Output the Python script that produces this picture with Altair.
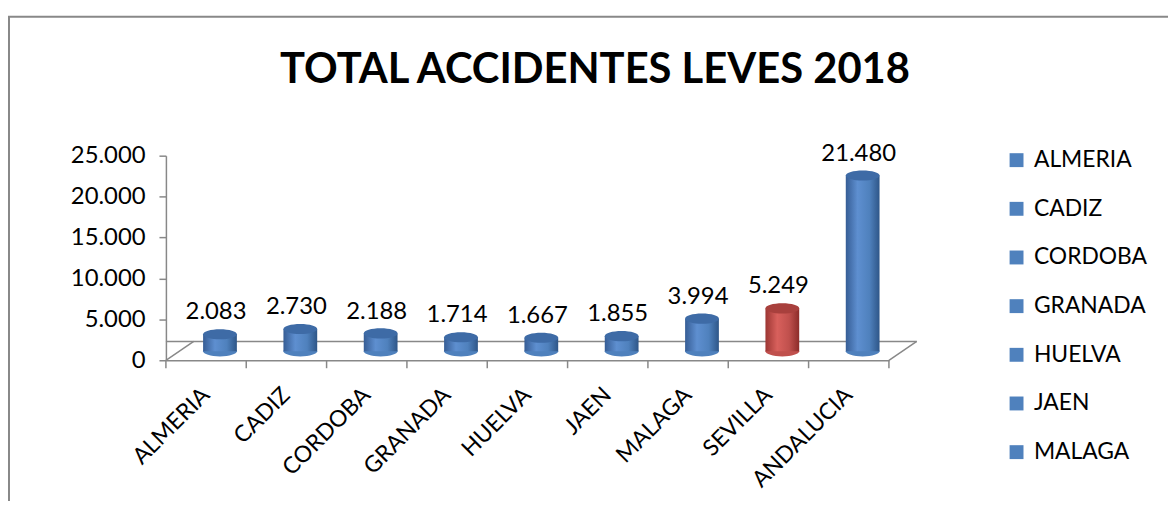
import altair as alt
import pandas as pd

categories = ["ALMERIA", "CADIZ", "CORDOBA", "GRANADA", "HUELVA",
              "JAEN", "MALAGA", "SEVILLA", "ANDALUCIA"]
values = [2083, 2730, 2188, 1714, 1667, 1855, 3994, 5249, 21480]
value_labels = ["2.083", "2.730", "2.188", "1.714", "1.667",
                "1.855", "3.994", "5.249", "21.480"]
y_ticks = [0, 5000, 10000, 15000, 20000, 25000]
legend_items = ["ALMERIA", "CADIZ", "CORDOBA", "GRANADA", "HUELVA", "JAEN", "MALAGA"]
bar_colors = ["#4f81bd"] * 7 + ["#c0504d", "#4f81bd"]
title_text = ["TOTAL ACCIDENTES LEVES 2018"]

df = pd.DataFrame({"cat": categories, "val": values, "label": value_labels})

W, H = 728, 206
DX, DY = 14, -9
BAND = W / len(categories)
FONT = "Lato"
GRAY = "#888888"
ELLIPSE = "M-1,0 A1,0.3 0 1,0 1,0 A1,0.3 0 1,0 -1,0 Z"

xenc = alt.X(
    "cat:N", sort=categories,
    scale=alt.Scale(domain=categories, paddingInner=0, paddingOuter=0),
    axis=alt.Axis(title=None, labelAngle=-45, labelAlign="right", labelBaseline="middle",
                  ticks=False, labelPadding=31, labelFont=FONT, labelFontSize=23,
                  labelColor="#000000", domainColor=GRAY, domainWidth=1.5),
)
yenc = alt.Y(
    "val:Q",
    scale=alt.Scale(domain=[0, 25000], nice=False),
    axis=alt.Axis(values=y_ticks, title=None, grid=False, tickSize=7, tickColor=GRAY,
                  tickWidth=1.5, domainColor=GRAY, domainWidth=1.5, labelPadding=14,
                  labelFont=FONT, labelFontSize=24, labelColor="#000000",
                  labelExpr="replace(format(datum.value, ','), ',', '.')"),
)

blue_grad = alt.Gradient(gradient="linear", x1=0, x2=1, y1=0, y2=0, stops=[
    alt.GradientStop(color="#365d95", offset=0),
    alt.GradientStop(color="#5e8fd0", offset=0.35),
    alt.GradientStop(color="#4f81bd", offset=0.7),
    alt.GradientStop(color="#2e5688", offset=1),
])
red_grad = alt.Gradient(gradient="linear", x1=0, x2=1, y1=0, y2=0, stops=[
    alt.GradientStop(color="#9c3633", offset=0),
    alt.GradientStop(color="#d8605c", offset=0.35),
    alt.GradientStop(color="#c0504d", offset=0.7),
    alt.GradientStop(color="#8c2c29", offset=1),
])

base = alt.Chart(df)
zero = alt.Chart(pd.DataFrame({"v": [0]}))

floor_back = zero.mark_rule(color=GRAY, strokeWidth=1.5, xOffset=28, yOffset=-19).encode(
    y=alt.Y("v:Q", scale=alt.Scale(domain=[0, 25000], nice=False)))
diag_left = zero.mark_rule(color=GRAY, strokeWidth=1.5).encode(
    x=alt.value(0), x2=alt.value(28), y=alt.value(H), y2=alt.value(H - 19))
diag_right = zero.mark_rule(color=GRAY, strokeWidth=1.5).encode(
    x=alt.value(W), x2=alt.value(W + 28), y=alt.value(H), y2=alt.value(H - 19))

ticks_a = base.mark_rule(color=GRAY, strokeWidth=1.5, xOffset=-BAND / 2).encode(
    x=xenc, y=alt.value(H), y2=alt.value(H + 8))
ticks_b = base.transform_filter(alt.datum.cat == "ANDALUCIA").mark_rule(
    color=GRAY, strokeWidth=1.5, xOffset=BAND / 2).encode(
    x=xenc, y=alt.value(H), y2=alt.value(H + 8))

bottom_caps = base.mark_point(shape=ELLIPSE, size=34 * 34, filled=True, opacity=1,
                              xOffset=DX, yOffset=DY).encode(
    x=xenc,
    y=alt.datum(0),
    color=alt.Color("cat:N", scale=alt.Scale(domain=categories, range=bar_colors),
                    legend=alt.Legend(values=legend_items, title=None, orient="none",
                                      legendX=845, legendY=-7, symbolType="square",
                                      symbolSize=196, symbolStrokeWidth=0,
                                      labelFont=FONT, labelFontSize=23,
                                      labelColor="#000000", rowPadding=25,
                                      labelOffset=6)),
)

bars_blue = base.transform_filter(alt.datum.cat != "SEVILLA").mark_bar(
    size=34, xOffset=DX, yOffset=DY, color=blue_grad).encode(x=xenc, y=yenc)
bars_red = base.transform_filter(alt.datum.cat == "SEVILLA").mark_bar(
    size=34, xOffset=DX, yOffset=DY, color=red_grad).encode(x=xenc, y=yenc)

tops_blue = base.transform_filter(alt.datum.cat != "SEVILLA").mark_point(
    shape=ELLIPSE, size=34 * 34, filled=True, opacity=1, color="#3e6ba6",
    xOffset=DX, yOffset=DY).encode(x=xenc, y=yenc)
tops_red = base.transform_filter(alt.datum.cat == "SEVILLA").mark_point(
    shape=ELLIPSE, size=34 * 34, filled=True, opacity=1, color="#a8403d",
    xOffset=DX, yOffset=DY).encode(x=xenc, y=yenc)

texts = base.mark_text(font=FONT, fontSize=24, color="#000000", baseline="middle",
                       xOffset=DX - 4, dy=DY - 22).encode(x=xenc, y=yenc, text="label:N")

title = alt.Chart(pd.DataFrame({"t": title_text})).mark_text(
    font=FONT, fontSize=42, fontWeight="bold", color="#000000",
    align="center", baseline="alphabetic").encode(
    x=alt.value(W / 2 + 68), y=alt.value(-73), text="t:N")

frame_left = zero.mark_rule(color=GRAY, strokeWidth=2).encode(
    x=alt.value(-158), y=alt.value(-140), y2=alt.value(360))
frame_top = zero.mark_rule(color=GRAY, strokeWidth=2).encode(
    x=alt.value(-159), x2=alt.value(1020), y=alt.value(-140))

chart = alt.layer(
    frame_left, frame_top, title, floor_back, diag_left, diag_right, ticks_a, ticks_b,
    bottom_caps, bars_blue, bars_red, tops_blue, tops_red, texts,
).properties(
    width=W, height=H,
    autosize=alt.AutoSizeParams(type="none"),
    padding={"left": 159, "top": 147, "right": 281, "bottom": 140},
).configure_view(stroke=None)

chart.save("out.html", embed_options={"renderer": "svg", "actions": False})
